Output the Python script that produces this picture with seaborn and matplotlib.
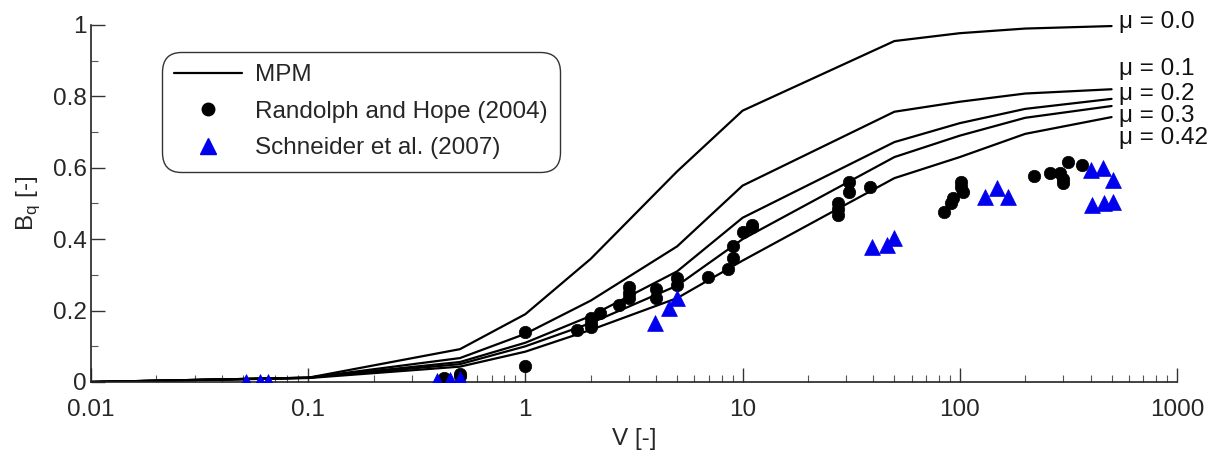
import numpy as np
import pandas as pd
import matplotlib
matplotlib.use("Agg")
import matplotlib.pyplot as plt
from matplotlib.lines import Line2D
from matplotlib.ticker import FixedLocator, FixedFormatter, LogLocator, NullFormatter, MultipleLocator
import seaborn as sns

# ---- data ----
V_grid = [0.01, 0.1, 0.5, 1, 2, 5, 10, 50, 100, 200, 500]
mu_labels = ["μ = 0.0", "μ = 0.1", "μ = 0.2", "μ = 0.3", "μ = 0.42"]
mpm_mu00 = [0.0, 0.012, 0.092, 0.19, 0.345, 0.59, 0.76, 0.955, 0.977, 0.99, 0.997]
mpm_mu01 = [0.0, 0.012, 0.067, 0.135, 0.228, 0.38, 0.55, 0.757, 0.785, 0.808, 0.82]
mpm_mu02 = [0.0, 0.012, 0.056, 0.11, 0.185, 0.31, 0.46, 0.672, 0.725, 0.765, 0.793]
mpm_mu03 = [0.0, 0.012, 0.050, 0.10, 0.165, 0.27, 0.40, 0.63, 0.69, 0.74, 0.773]
mpm_mu042 = [0.0, 0.011, 0.043, 0.085, 0.146, 0.235, 0.34, 0.571, 0.63, 0.695, 0.742]
label_baselines = [0.992, 0.86, 0.79, 0.728, 0.667]

rh_V = [0.42, 0.5, 0.5, 1.0, 1.0, 1.73, 2.0, 2.0, 2.0, 2.2, 2.7, 3.0, 3.0, 3.0,
        4.0, 4.0, 5.0, 5.0, 6.9, 8.6, 9.0, 9.0, 10.0, 11.0, 11.0,
        27.6, 27.6, 27.6, 30.8, 30.8, 38.8,
        85, 91, 93, 101, 101, 103,
        220, 260, 290, 300, 300, 314, 364]
rh_Bq = [0.01, 0.017, 0.022, 0.14, 0.045, 0.146, 0.18, 0.165, 0.155, 0.193, 0.215, 0.266, 0.25, 0.235,
         0.26, 0.235, 0.29, 0.273, 0.295, 0.316, 0.347, 0.38, 0.42, 0.434, 0.44,
         0.50, 0.485, 0.468, 0.56, 0.533, 0.547,
         0.477, 0.50, 0.515, 0.56, 0.545, 0.532,
         0.577, 0.585, 0.585, 0.557, 0.57, 0.616, 0.607]

sch_V = [0.052, 0.06, 0.065, 0.39, 0.45, 0.50, 3.96, 4.6, 5.0,
         39.5, 46, 50, 131, 149, 166, 400, 455, 505, 405, 460, 505]
sch_Bq = [0.0, 0.0, 0.0, 0.004, 0.006, 0.008, 0.165, 0.207, 0.235,
          0.378, 0.384, 0.403, 0.518, 0.543, 0.518, 0.594, 0.60, 0.566, 0.496, 0.50, 0.505]

x_ticks = [0.01, 0.1, 1, 10, 100, 1000]
x_ticklabels = ["0.01", "0.1", "1", "10", "100", "1000"]
y_ticks = [0, 0.2, 0.4, 0.6, 0.8, 1.0]
y_ticklabels = ["0", "0.2", "0.4", "0.6", "0.8", "1"]

# ---- style ----
sns.set_style("ticks")
plt.rcParams["font.family"] = ["Liberation Sans", "DejaVu Sans"]
plt.rcParams["mathtext.fontset"] = "custom"
plt.rcParams["mathtext.rm"] = "Liberation Sans"
FS = 17.5

fig = plt.figure(figsize=(12.26, 4.51), dpi=100)
ax = fig.add_axes([0.0742, 0.153, 0.8858, 0.7916])

mpm_all = [mpm_mu00, mpm_mu01, mpm_mu02, mpm_mu03, mpm_mu042]
for lab, vals in zip(mu_labels, mpm_all):
    d = pd.DataFrame({"V": V_grid, "Bq": vals})
    sns.lineplot(data=d, x="V", y="Bq", color="black", lw=1.6, ax=ax,
                 estimator=None, sort=False, legend=False)

for lab, vals, yb in zip(mu_labels, mpm_all, label_baselines):
    ax.text(540, yb, lab, fontsize=FS, ha="left", va="baseline", color="#111111")

rh = pd.DataFrame({"V": rh_V, "Bq": rh_Bq})
sch = pd.DataFrame({"V": sch_V, "Bq": sch_Bq})
sns.scatterplot(data=rh, x="V", y="Bq", marker="o", s=80, color="black",
                edgecolor="black", linewidth=0.5, ax=ax, legend=False, zorder=3)
sns.scatterplot(data=sch, x="V", y="Bq", marker="^", s=130, color="#0000ee",
                edgecolor="#0000ee", linewidth=0.5, ax=ax, legend=False, zorder=3)

ax.set_xscale("log")
ax.set_xlim(0.01, 1000)
ax.set_ylim(0, 1)
ax.xaxis.set_major_locator(FixedLocator(x_ticks))
ax.xaxis.set_major_formatter(FixedFormatter(x_ticklabels))
ax.xaxis.set_minor_locator(LogLocator(base=10, subs=np.arange(2, 10)))
ax.xaxis.set_minor_formatter(NullFormatter())
ax.yaxis.set_major_locator(FixedLocator(y_ticks))
ax.yaxis.set_major_formatter(FixedFormatter(y_ticklabels))
ax.yaxis.set_minor_locator(MultipleLocator(0.1))

ax.tick_params(which="major", direction="in", length=10, width=1, labelsize=FS, color="#333333")
ax.tick_params(which="minor", direction="in", length=5, width=0.8, color="#555555")
ax.tick_params(axis="x", which="major", pad=12)
ax.tick_params(axis="y", which="major", pad=3)

sns.despine(ax=ax)
for s in ["left", "bottom"]:
    ax.spines[s].set_linewidth(1.2)
    ax.spines[s].set_color("#222222")

ax.set_xlabel("V [-]", fontsize=FS, labelpad=5)
ax.set_ylabel("B$_\\mathregular{q}$ [-]", fontsize=FS, labelpad=8)

handles = [
    Line2D([], [], color="black", lw=1.6),
    Line2D([], [], color="black", marker="o", ls="none", markersize=9),
    Line2D([], [], color="#0000ee", marker="^", ls="none", markersize=11),
]
labels = ["MPM", "Randolph and Hope (2004)", "Schneider et al. (2007)"]
leg = ax.legend(handles, labels, loc="upper left", bbox_to_anchor=(0.065, 0.924),
                borderaxespad=0, fontsize=FS, frameon=True, fancybox=True,
                handlelength=2.8, handletextpad=0.55, labelspacing=0.6,
                borderpad=0.5)
fr = leg.get_frame()
fr.set_boxstyle("round", pad=0, rounding_size=0.8)
fr.set_edgecolor("#333333")
fr.set_linewidth(1.0)
fr.set_alpha(1)

fig.savefig("out.png", dpi=100)
